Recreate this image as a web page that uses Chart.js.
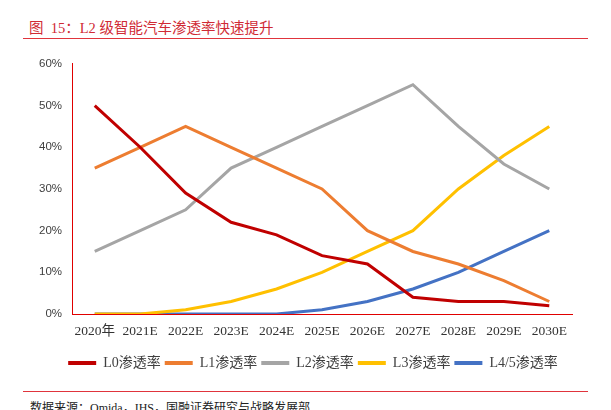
<!DOCTYPE html>
<html>
<head>
<meta charset="utf-8">
<script src="https://cdn.jsdelivr.net/npm/chart.js@4/dist/chart.umd.min.js"></script>
<style>
  body { margin: 0; width: 611px; height: 410px; background: #fff; position: relative; overflow: hidden; }
  .title { position: absolute; left: 29px; top: 16px; font: 14.5px "Liberation Serif", "Noto Sans CJK SC", serif; color: #d02a34; white-space: pre; }
  .rule { position: absolute; left: 23px; width: 565px; height: 1px; background: #e0343c; }
  .src { position: absolute; left: 30px; top: 398px; font: 12px "Liberation Serif", "Noto Sans CJK SC", serif; color: #222; white-space: pre; }
  #wrap { position: absolute; left: 0; top: 47px; width: 611px; height: 333px; }
</style>
</head>
<body>
<div class="title">图  15：L2 级智能汽车渗透率快速提升</div>
<div class="rule" style="top:38px"></div>
<div id="wrap"><canvas id="c"></canvas></div>
<div class="rule" style="top:391px"></div>
<div class="src">数据来源：Omida，IHS，国融证券研究与战略发展部</div>
<script>
/* ── data ── */
var years = ['2020年', '2021E', '2022E', '2023E', '2024E', '2025E', '2026E', '2027E', '2028E', '2029E', '2030E'];
var l0 = [50, 40, 29, 22, 19, 14, 12, 4, 3, 3, 2];
var l1 = [35, 40, 45, 40, 35, 30, 20, 15, 12, 8, 3];
var l2 = [15, 20, 25, 35, 40, 45, 50, 55, 45, 36, 30];
var l3 = [0, 0, 1, 3, 6, 10, 15, 20, 30, 38, 45];
var l45 = [0, 0, 0, 0, 0, 1, 3, 6, 10, 15, 20];
var yTicks = [0, 10, 20, 30, 40, 50, 60];

function line(label, data, color) {
  return {
    label: label,
    data: data,
    borderColor: color,
    backgroundColor: color,
    borderWidth: 3,
    pointRadius: 0,
    tension: 0,
    fill: false
  };
}

// legend sits centred on the page, not on the padded box
var shiftLegend = {
  id: 'shiftLegend',
  afterLayout: function(chart) {
    if (!chart.legend) return;
    chart.legend.left += 27;
    chart.legend.right += 27;
  }
};

new Chart(document.getElementById('c'), {
  type: 'line',
  data: {
    labels: years,
    datasets: [
      line('L0渗透率', l0, '#c00000'),
      line('L1渗透率', l1, '#ed7d31'),
      line('L2渗透率', l2, '#a5a5a5'),
      line('L3渗透率', l3, '#ffc000'),
      line('L4/5渗透率', l45, '#4472c4')
    ]
  },
  plugins: [shiftLegend],
  options: {
    responsive: true,
    maintainAspectRatio: false,
    animation: false,
    layout: { padding: { top: 6, right: 39, left: 0, bottom: 0 } },
    plugins: {
      tooltip: { enabled: false },
      legend: {
        position: 'bottom',
        labels: {
          usePointStyle: true,
          pointStyle: 'line',
          pointStyleWidth: 28,
          padding: 4,
          color: '#404040',
          font: { size: 14, family: '"Liberation Serif", "Noto Sans CJK SC", serif' },
          generateLabels: function(chart) {
            var items = Chart.defaults.plugins.legend.labels.generateLabels(chart);
            items.forEach(function(it) { it.lineWidth = 4; });
            return items;
          }
        }
      }
    },
    scales: {
      x: {
        offset: true,
        grid: { display: false, drawTicks: false },
        border: { color: '#e00000', width: 1 },
        ticks: {
          padding: 9,
          maxRotation: 0,
          autoSkip: false,
          color: '#333',
          font: { size: 13.5, family: '"Liberation Serif", "Noto Sans CJK SC", serif' }
        },
        afterFit: function(s) { s.height = 38; }
      },
      y: {
        min: 0,
        max: 60,
        grid: { display: false, drawTicks: false },
        border: { color: '#e00000', width: 1 },
        afterBuildTicks: function(s) { s.ticks = yTicks.map(function(v) { return { value: v }; }); },
        ticks: {
          padding: 10,
          color: '#404040',
          font: { size: 11.5, family: '"Liberation Sans", Arial, sans-serif' },
          callback: function(v) { return v + '%'; }
        },
        afterFit: function(s) { s.width = 72; }
      }
    }
  }
});
</script>
</body>
</html>
